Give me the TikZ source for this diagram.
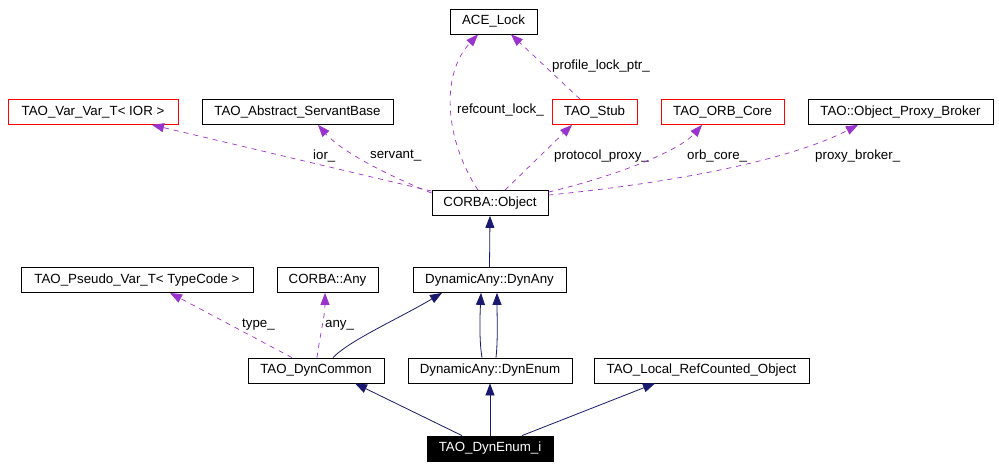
\documentclass[tikz,border=0pt]{standalone}
\usepackage{fontspec}
\setmainfont{Liberation Sans}
\usetikzlibrary{arrows.meta}
\definecolor{edgepurple}{HTML}{9A32CD}
\definecolor{edgenavy}{HTML}{191970}
\tikzset{
  cls/.style={draw=black, line width=0.8pt, fill=white, inner sep=0pt, minimum height=25pt, font=\fontsize{13.3}{15}\selectfont, text=black},
  redcls/.style={cls, draw=red},
  curcls/.style={cls, fill=black, text=white},
  uses/.style={draw=edgepurple, line width=0.7pt, dash pattern=on 5pt off 5pt, -{Triangle[length=12pt,width=9pt,fill=edgepurple]}},
  inherit/.style={draw=edgenavy, line width=0.8pt, -{Triangle[length=12pt,width=9pt,fill=edgenavy]}},
  lbl/.style={anchor=west, inner sep=0pt, font=\fontsize{13.3}{15}\selectfont, text=black}
}
\begin{document}
\begin{tikzpicture}[x=1pt,y=-1pt]
\useasboundingbox[fill=white] (0,0) rectangle (999,468);
% nodes
\node[cls, minimum width=87pt] (ace) at (493.5,21.5) {ACE\_Lock};
\node[redcls, minimum width=170pt] (varvar) at (93,112) {TAO\_Var\_Var\_T< IOR >};
\node[cls, minimum width=191pt] (absserv) at (297.5,112) {TAO\_Abstract\_ServantBase};
\node[redcls, minimum width=85pt] (stub) at (594.5,112) {TAO\_Stub};
\node[redcls, minimum width=123pt] (orbcore) at (722.5,112) {TAO\_ORB\_Core};
\node[cls, minimum width=185pt] (proxybroker) at (900.5,112) {TAO::Object\_Proxy\_Broker};
\node[cls, minimum width=116pt] (obj) at (490,203) {CORBA::Object};
\node[cls, minimum width=232pt] (pseudovar) at (137,280) {TAO\_Pseudo\_Var\_T< TypeCode >};
\node[cls, minimum width=101pt] (any) at (327.5,280) {CORBA::Any};
\node[cls, minimum width=153pt] (dynany) at (489.5,280) {DynamicAny::DynAny};
\node[cls, minimum width=136pt] (dyncommon) at (316,370.5) {TAO\_DynCommon};
\node[cls, minimum width=164pt] (dynenum) at (490,370.5) {DynamicAny::DynEnum};
\node[cls, minimum width=215pt] (localref) at (701.5,370.5) {TAO\_Local\_RefCounted\_Object};
\node[curcls, minimum width=126pt] (dynenumi) at (490,448.5) {TAO\_DynEnum\_i};
% usage (dashed) edges
\draw[uses] ([xshift=-12pt]obj.north) .. controls (445,140) and (440,75) .. ([xshift=-15.5pt]ace.south);
\node[lbl] (lrefcount) at (457,110) {refcount\_lock\_};
\draw[uses] ([xshift=-14.5pt]stub.north) -- ([xshift=17.5pt]ace.south);
\node[lbl] (lprofile) at (552,66) {profile\_lock\_ptr\_};
\draw[uses] ([yshift=-1pt]obj.north west) .. controls (350,172) and (250,148) .. ([xshift=59pt]varvar.south);
\node[lbl] (lior) at (313,156) {ior\_};
\draw[uses] ([yshift=-3pt]obj.north west) .. controls (380,172) and (340,150) .. ([xshift=20.5pt]absserv.south);
\node[lbl] (lservant) at (370,156) {servant\_};
\draw[uses] ([xshift=15pt]obj.north) -- ([xshift=-22.5pt]stub.south);
\node[lbl] (lprotocol) at (554,156) {protocol\_proxy\_};
\draw[uses] ([yshift=-2pt]obj.north east) .. controls (620,175) and (680,150) .. ([xshift=-20.5pt]orbcore.south);
\node[lbl] (lorb) at (687,156) {orb\_core\_};
\draw[uses] ([yshift=-5pt]obj.north east) .. controls (700,180) and (800,155) .. ([xshift=-42.5pt]proxybroker.south);
\node[lbl] (lproxy) at (815,156) {proxy\_broker\_};
\draw[uses] ([xshift=-24pt]dyncommon.north) -- ([xshift=33pt]pseudovar.south);
\node[lbl] (ltype) at (242,325) {type\_};
\draw[uses] ([xshift=1pt]dyncommon.north) .. controls (320,335) and (325,315) .. ([xshift=-2.5pt]any.south);
\node[lbl] (lany) at (325,325) {any\_};
% inheritance (solid) edges
\draw[inherit] (dynany.north) -- (obj.south);
\draw[inherit] ([xshift=17pt]dyncommon.north) .. controls (350,340) and (400,318) .. ([xshift=-47.5pt]dynany.south);
\draw[inherit] ([xshift=-8pt]dynenum.north) .. controls (479,340) and (480,315) .. ([xshift=-8.5pt]dynany.south);
\draw[inherit] ([xshift=6pt]dynenum.north) .. controls (498,340) and (497,315) .. ([xshift=7.5pt]dynany.south);
\draw[inherit] ([xshift=-28pt]dynenumi.north) -- ([xshift=39pt]dyncommon.south);
\draw[inherit] (dynenumi.north) -- (dynenum.south);
\draw[inherit] ([xshift=32pt]dynenumi.north) -- ([xshift=-46.5pt]localref.south);
\end{tikzpicture}
\end{document}
